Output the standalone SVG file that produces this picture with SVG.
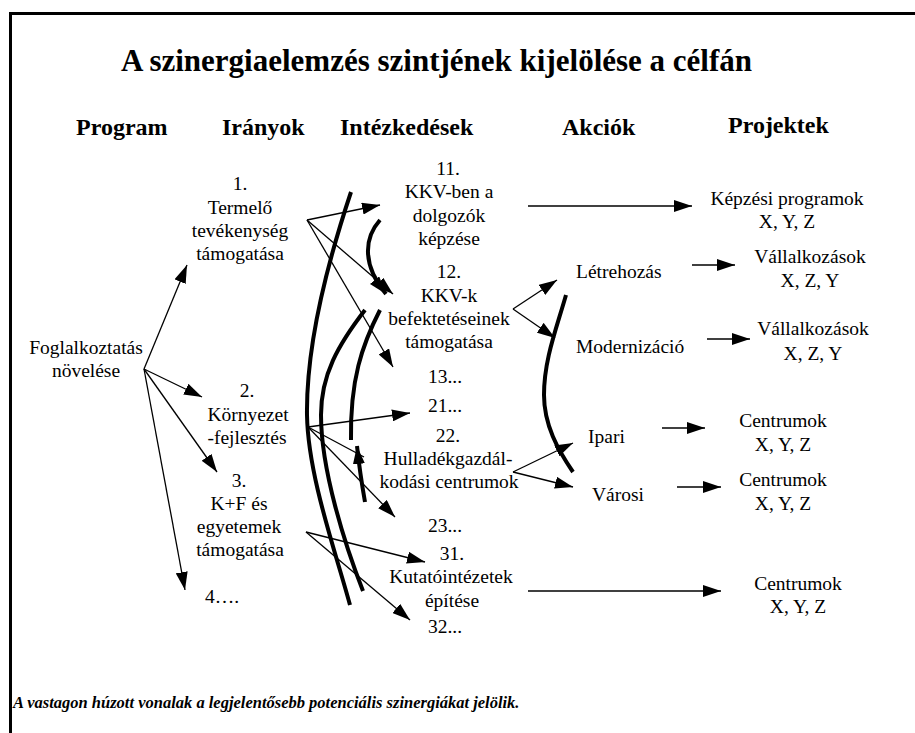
<svg xmlns="http://www.w3.org/2000/svg" width="915" height="733" viewBox="0 0 915 733">
  <defs>
    <marker id="head" markerUnits="userSpaceOnUse" markerWidth="18" markerHeight="12" refX="18" refY="6" orient="auto">
      <path d="M0,0 L18,6 L0,12 Z" fill="#000"/>
    </marker>
  </defs>
  <rect width="915" height="733" fill="#fff"/>
  <g id="frame" stroke="#000" stroke-width="3">
    <line x1="9" y1="13.5" x2="915" y2="13.5"/>
    <line x1="10.5" y1="12" x2="10.5" y2="733"/>
  </g>
  <text font-family="Times New Roman" font-size="31" font-weight="bold" x="121" y="71">A szinergiaelemzés szintjének kijelölése a célfán</text>
  <g id="headings" font-weight="bold">
    <text font-family="Times New Roman" font-size="24" x="76" y="135">Program</text>
    <text font-family="Times New Roman" font-size="24" x="222" y="135">Irányok</text>
    <text font-family="Times New Roman" font-size="24" x="340" y="135">Intézkedések</text>
    <text font-family="Times New Roman" font-size="24" x="562" y="135">Akciók</text>
    <text font-family="Times New Roman" font-size="24" x="728" y="133">Projektek</text>
  </g>
  <g text-anchor="middle">
    <g id="program">
      <text font-family="Times New Roman" font-size="19.5" x="86" y="354">Foglalkoztatás</text>
      <text font-family="Times New Roman" font-size="19.5" x="86" y="377">növelése</text>
    </g>
    <g id="irany1">
      <text font-family="Times New Roman" font-size="19.5" x="240" y="190">1.</text>
      <text font-family="Times New Roman" font-size="19.5" x="240" y="214">Termelő</text>
      <text font-family="Times New Roman" font-size="19.5" x="240" y="237">tevékenység</text>
      <text font-family="Times New Roman" font-size="19.5" x="240" y="260">támogatása</text>
    </g>
    <g id="irany2">
      <text font-family="Times New Roman" font-size="19.5" x="247" y="397">2.</text>
      <text font-family="Times New Roman" font-size="19.5" x="248" y="421">Környezet</text>
      <text font-family="Times New Roman" font-size="19.5" x="247" y="444">-fejlesztés</text>
    </g>
    <g id="irany3">
      <text font-family="Times New Roman" font-size="19.5" x="239" y="487">3.</text>
      <text font-family="Times New Roman" font-size="19.5" x="239" y="510">K+F és</text>
      <text font-family="Times New Roman" font-size="19.5" x="239" y="533">egyetemek</text>
      <text font-family="Times New Roman" font-size="19.5" x="240" y="556">támogatása</text>
    </g>
    <g id="irany4">
      <text font-family="Times New Roman" font-size="19.5" x="222" y="603">4….</text>
    </g>
    <g id="int11">
      <text font-family="Times New Roman" font-size="19.5" x="448" y="175">11.</text>
      <text font-family="Times New Roman" font-size="19.5" x="449" y="198">KKV-ben a</text>
      <text font-family="Times New Roman" font-size="19.5" x="449" y="222">dolgozók</text>
      <text font-family="Times New Roman" font-size="19.5" x="449" y="245">képzése</text>
    </g>
    <g id="int12">
      <text font-family="Times New Roman" font-size="19.5" x="449" y="278">12.</text>
      <text font-family="Times New Roman" font-size="19.5" x="449" y="302">KKV-k</text>
      <text font-family="Times New Roman" font-size="19.5" x="449" y="325">befektetéseinek</text>
      <text font-family="Times New Roman" font-size="19.5" x="449" y="348">támogatása</text>
    </g>
    <g id="int13"><text font-family="Times New Roman" font-size="19.5" x="445" y="383">13...</text></g>
    <g id="int21"><text font-family="Times New Roman" font-size="19.5" x="445" y="412">21...</text></g>
    <g id="int22">
      <text font-family="Times New Roman" font-size="19.5" x="448" y="442">22.</text>
      <text font-family="Times New Roman" font-size="19.5" x="448" y="465">Hulladékgazdál-</text>
      <text font-family="Times New Roman" font-size="19.5" x="449" y="488">kodási centrumok</text>
    </g>
    <g id="int23"><text font-family="Times New Roman" font-size="19.5" x="445" y="532">23...</text></g>
    <g id="int31">
      <text font-family="Times New Roman" font-size="19.5" x="452" y="560">31.</text>
      <text font-family="Times New Roman" font-size="19.5" x="451" y="583">Kutatóintézetek</text>
      <text font-family="Times New Roman" font-size="19.5" x="452" y="607">építése</text>
    </g>
    <g id="int32"><text font-family="Times New Roman" font-size="19.5" x="445" y="633">32...</text></g>
    <g id="proj-kepzes">
      <text font-family="Times New Roman" font-size="19.5" x="787" y="205">Képzési programok</text>
      <text font-family="Times New Roman" font-size="19.5" x="787" y="228">X, Y, Z</text>
    </g>
    <g id="proj-vall1">
      <text font-family="Times New Roman" font-size="19.5" x="810" y="263">Vállalkozások</text>
      <text font-family="Times New Roman" font-size="19.5" x="810" y="287">X, Z, Y</text>
    </g>
    <g id="proj-vall2">
      <text font-family="Times New Roman" font-size="19.5" x="813" y="335">Vállalkozások</text>
      <text font-family="Times New Roman" font-size="19.5" x="813" y="360">X, Z, Y</text>
    </g>
    <g id="proj-centr1">
      <text font-family="Times New Roman" font-size="19.5" x="783" y="427">Centrumok</text>
      <text font-family="Times New Roman" font-size="19.5" x="783" y="451">X, Y, Z</text>
    </g>
    <g id="proj-centr2">
      <text font-family="Times New Roman" font-size="19.5" x="783" y="486">Centrumok</text>
      <text font-family="Times New Roman" font-size="19.5" x="783" y="510">X, Y, Z</text>
    </g>
    <g id="proj-centr3">
      <text font-family="Times New Roman" font-size="19.5" x="798" y="590">Centrumok</text>
      <text font-family="Times New Roman" font-size="19.5" x="798" y="613">X, Y, Z</text>
    </g>
  </g>
  <g id="letrehozas"><text font-family="Times New Roman" font-size="19.5" x="576" y="278">Létrehozás</text></g>
  <g id="modernizacio"><text font-family="Times New Roman" font-size="19.5" x="576" y="353">Modernizáció</text></g>
  <g id="ipari"><text font-family="Times New Roman" font-size="19.5" x="588" y="443">Ipari</text></g>
  <g id="varosi"><text font-family="Times New Roman" font-size="19.5" x="592" y="501">Városi</text></g>
  <text font-family="Times New Roman" font-size="16.5" font-weight="bold" font-style="italic" x="13" y="708">A vastagon húzott vonalak a legjelentősebb potenciális szinergiákat jelölik.</text>
  <g id="connectors" stroke="#000" fill="none">
    <g stroke-width="1.3" marker-end="url(#head)">
      <line x1="144" y1="369" x2="187" y2="265"/>
      <line x1="144" y1="369" x2="202" y2="397"/>
      <line x1="144" y1="369" x2="217" y2="472"/>
      <line x1="144" y1="369" x2="185" y2="590"/>
      <line x1="307" y1="220" x2="380" y2="205"/>
      <line x1="307" y1="220" x2="393" y2="294"/>
      <line x1="307" y1="220" x2="393" y2="367"/>
      <line x1="308" y1="427" x2="410" y2="413"/>
      <line x1="308" y1="427" x2="395" y2="517"/>
      <line x1="306" y1="532" x2="425" y2="562"/>
      <line x1="306" y1="532" x2="410" y2="620"/>
      <line x1="513" y1="309" x2="557" y2="280"/>
      <line x1="513" y1="309" x2="555" y2="338"/>
      <line x1="513" y1="472" x2="573" y2="443"/>
      <line x1="513" y1="472" x2="573" y2="487"/>
      <line x1="528" y1="206" x2="692" y2="206"/>
      <line x1="692" y1="265" x2="735" y2="265"/>
      <line x1="707" y1="339" x2="750" y2="339"/>
      <line x1="662" y1="428" x2="705" y2="428"/>
      <line x1="677" y1="487" x2="721" y2="487"/>
      <line x1="528" y1="591" x2="721" y2="591"/>
    </g>
    <line stroke-width="1.3" x1="308" y1="427" x2="364" y2="457"/>
    <g stroke-width="4">
      <path d="M351,192 C330,255 306,340 307,415 C308,475 335,550 350,605"/>
      <path d="M365,310 C338,345 321,375 321,415 C321,470 345,545 363,591"/>
      <path d="M380,310 C362,345 350,380 351,440"/>
      <path d="M566,295 C556,330 544,360 544,395 C544,425 558,450 573,472"/>
      <path marker-end="url(#head)" d="M365,502 C362,485 359,465 357,446"/>
      <path marker-end="url(#head)" d="M380,220 C364,238 362,265 386,294"/>
    </g>
  </g>
</svg>
